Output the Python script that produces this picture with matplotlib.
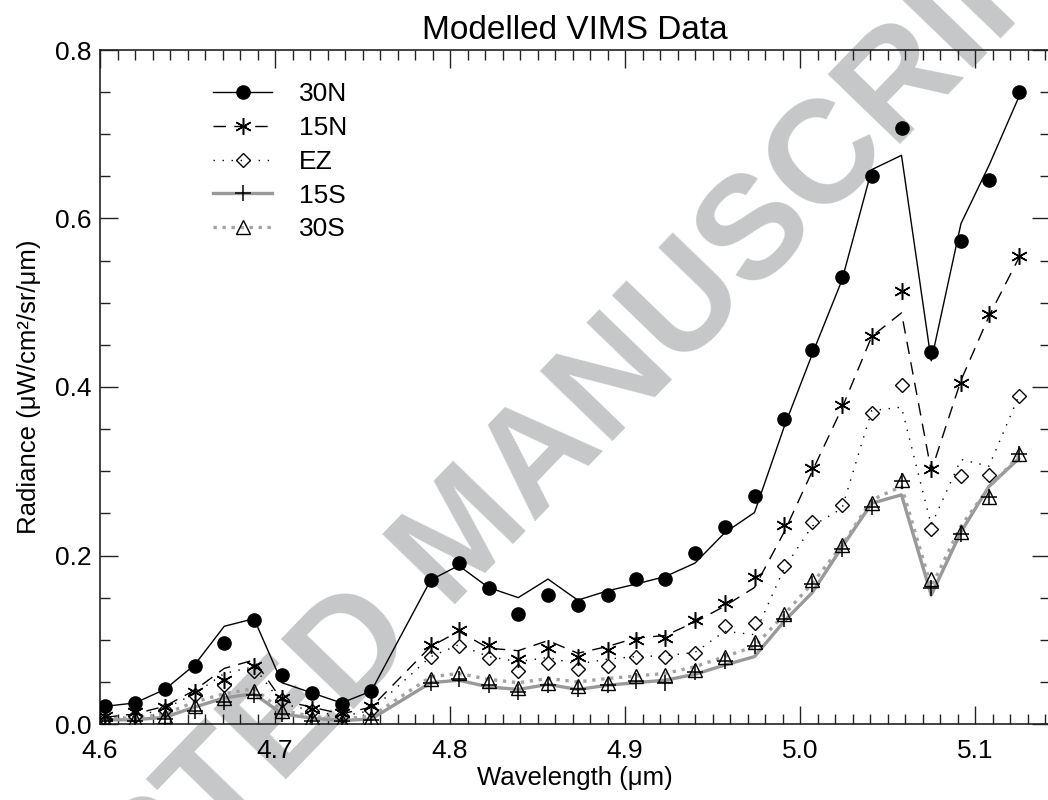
import matplotlib
matplotlib.use("Agg")
import matplotlib.pyplot as plt
from matplotlib.lines import Line2D
from matplotlib.ticker import MultipleLocator, FormatStrFormatter

plt.rcParams['font.family'] = ['Liberation Sans', 'DejaVu Sans']

# Wavelengths (µm) of the channels
wavelength = [4.603, 4.620, 4.637, 4.654, 4.671, 4.688, 4.704, 4.721, 4.738, 4.755,
              4.789, 4.805, 4.822, 4.839, 4.856, 4.873, 4.890, 4.906, 4.923, 4.940,
              4.957, 4.974, 4.991, 5.007, 5.024, 5.041, 5.058, 5.075, 5.092, 5.108, 5.125]

# Observed (markers)
data_30N = [0.021, 0.025, 0.041, 0.069, 0.096, 0.124, 0.058, 0.037, 0.024, 0.039,
            0.171, 0.191, 0.161, 0.130, 0.153, 0.141, 0.153, 0.172, 0.172, 0.203,
            0.234, 0.271, 0.362, 0.444, 0.531, 0.650, 0.708, 0.441, 0.573, 0.646, 0.750]
data_15N = [0.009, 0.014, 0.020, 0.038, 0.052, 0.069, 0.031, 0.018, 0.013, 0.021,
            0.094, 0.112, 0.094, 0.077, 0.090, 0.080, 0.088, 0.100, 0.102, 0.124,
            0.144, 0.175, 0.236, 0.304, 0.379, 0.460, 0.514, 0.303, 0.405, 0.487, 0.555]
data_EZ = [0.006, 0.009, 0.017, 0.034, 0.046, 0.063, 0.028, 0.015, 0.009, 0.017,
           0.080, 0.092, 0.078, 0.063, 0.072, 0.065, 0.069, 0.080, 0.080, 0.084,
           0.116, 0.120, 0.187, 0.240, 0.260, 0.369, 0.402, 0.231, 0.294, 0.295, 0.389]
data_15S = [0.003, 0.004, 0.006, 0.016, 0.026, 0.034, 0.012, 0.004, 0.003, 0.005,
            0.049, 0.053, 0.046, 0.038, 0.046, 0.041, 0.046, 0.051, 0.049, 0.062,
            0.075, 0.092, 0.125, 0.166, 0.208, 0.257, 0.288, 0.162, 0.226, 0.270, 0.320]
data_30S = [0.004, 0.006, 0.009, 0.021, 0.031, 0.039, 0.016, 0.007, 0.004, 0.007,
            0.053, 0.061, 0.051, 0.043, 0.049, 0.045, 0.049, 0.057, 0.058, 0.064,
            0.080, 0.097, 0.131, 0.171, 0.212, 0.262, 0.290, 0.172, 0.228, 0.270, 0.320]

# Modelled (lines)
model_30N = [0.021, 0.025, 0.041, 0.070, 0.116, 0.125, 0.049, 0.037, 0.025, 0.039,
             0.171, 0.188, 0.162, 0.150, 0.172, 0.147, 0.158, 0.166, 0.175, 0.191,
             0.227, 0.251, 0.353, 0.439, 0.527, 0.658, 0.675, 0.431, 0.594, 0.663, 0.744]
model_15N = [0.008, 0.012, 0.021, 0.040, 0.066, 0.076, 0.028, 0.020, 0.012, 0.020,
             0.092, 0.110, 0.090, 0.087, 0.099, 0.084, 0.092, 0.102, 0.105, 0.121,
             0.140, 0.162, 0.228, 0.300, 0.375, 0.460, 0.488, 0.300, 0.408, 0.484, 0.553]
model_EZ = [0.006, 0.009, 0.018, 0.036, 0.060, 0.068, 0.024, 0.016, 0.009, 0.016,
            0.080, 0.094, 0.080, 0.074, 0.079, 0.071, 0.077, 0.080, 0.081, 0.085,
            0.110, 0.106, 0.185, 0.235, 0.256, 0.372, 0.376, 0.236, 0.314, 0.306, 0.389]
model_15S = [0.005, 0.005, 0.008, 0.020, 0.031, 0.036, 0.012, 0.007, 0.004, 0.006,
             0.049, 0.052, 0.044, 0.041, 0.047, 0.041, 0.046, 0.049, 0.052, 0.059,
             0.070, 0.080, 0.122, 0.156, 0.210, 0.262, 0.272, 0.153, 0.228, 0.282, 0.315]
model_30S = [0.006, 0.007, 0.012, 0.026, 0.036, 0.042, 0.016, 0.009, 0.006, 0.009,
             0.056, 0.060, 0.053, 0.049, 0.054, 0.050, 0.054, 0.057, 0.060, 0.068,
             0.080, 0.092, 0.130, 0.167, 0.212, 0.266, 0.282, 0.163, 0.235, 0.281, 0.318]

labels = ["30N", "15N", "EZ", "15S", "30S"]

GRAY = '#999999'
GRAY_DOT = '#a3a3a3'
WATERMARK = '#c6c7c9'

fig = plt.figure(figsize=(10.48, 8.0), dpi=100)
ax = fig.add_axes([100/1048, 76/800, 950/1048, 674/800])

# watermark (behind data)
ax.text(466/1048, 1 - 538/800, "ACCEPTED MANUSCRIPT", transform=fig.transFigure,
        rotation=46, ha='center', va='center', fontsize=105, fontweight='bold',
        color=WATERMARK, zorder=0.5, clip_on=False)

styles = {
    "30N": dict(line=dict(color='black', lw=1.0, ls='-'),
                mk=dict(marker='o', ms=9.5, mfc='black', mec='black', mew=1.0)),
    "15N": dict(line=dict(color='black', lw=1.0, dashes=(9, 6)),
                mk=dict(marker=(6, 2, 0), ms=12, mfc='none', mec='black', mew=1.1)),
    "EZ": dict(line=dict(color='black', lw=1.0, dashes=(1, 5.5)),
               mk=dict(marker='D', ms=7.6, mfc='none', mec='black', mew=1.0)),
    "15S": dict(line=dict(color=GRAY, lw=2.4, ls='-'),
                mk=dict(marker='+', ms=12, mfc='none', mec='black', mew=1.1)),
    "30S": dict(line=dict(color=GRAY_DOT, lw=2.4, dashes=(1, 1.7)),
                mk=dict(marker='^', ms=10.5, mfc='none', mec='black', mew=1.0)),
}

models = {"30N": model_30N, "15N": model_15N, "EZ": model_EZ, "15S": model_15S, "30S": model_30S}
datas = {"30N": data_30N, "15N": data_15N, "EZ": data_EZ, "15S": data_15S, "30S": data_30S}

for lab in labels:
    ax.plot(wavelength, models[lab], zorder=2, **styles[lab]['line'])
for lab in labels:
    ax.plot(wavelength, datas[lab], ls='none', zorder=3, **styles[lab]['mk'])

handles = []
for lab in labels:
    handles.append(Line2D([], [], **styles[lab]['line'], **styles[lab]['mk']))

leg = ax.legend(handles, labels, loc='upper left', bbox_to_anchor=(0.119, 0.952),
                frameon=False, fontsize=19, handlelength=2.25, handletextpad=1.0,
                labelspacing=0.37, borderpad=0, borderaxespad=0)

ax.set_xlim(4.6, 4.6 + 950/1750)
ax.set_ylim(0.0, 0.8)
ax.xaxis.set_major_locator(MultipleLocator(0.1))
ax.xaxis.set_minor_locator(MultipleLocator(0.01))
ax.yaxis.set_major_locator(MultipleLocator(0.2))
ax.yaxis.set_minor_locator(MultipleLocator(0.05))
ax.xaxis.set_major_formatter(FormatStrFormatter('%.1f'))
ax.yaxis.set_major_formatter(FormatStrFormatter('%.1f'))
ax.tick_params(which='both', direction='in', top=True, right=True, width=1.0,
               color='#222222', labelsize=19)
ax.tick_params(which='major', length=13)
ax.tick_params(which='minor', length=7)
ax.tick_params(axis='x', which='major', pad=11)
ax.tick_params(axis='y', which='major', pad=6)
for sp in ax.spines.values():
    sp.set_linewidth(1.2)
    sp.set_color('#222222')

ax.set_title("Modelled VIMS Data", fontsize=24, pad=8)
ax.set_xlabel("Wavelength (μm)", fontsize=18.5, labelpad=2)
ax.set_ylabel("Radiance (μW/cm²/sr/μm)", fontsize=18.5, labelpad=10)

fig.savefig("out.png", dpi=100)
